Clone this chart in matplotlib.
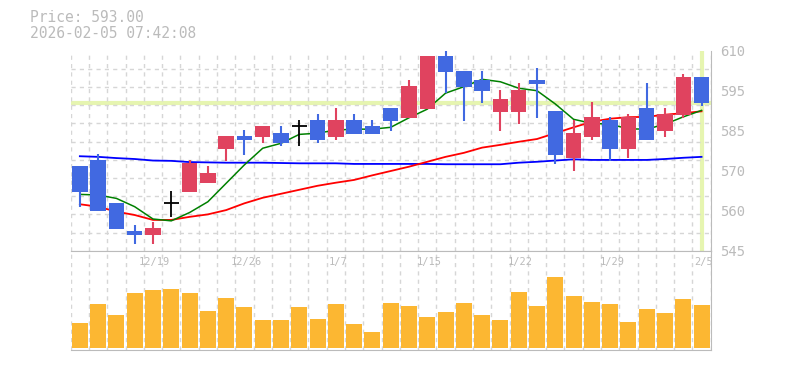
import numpy as np
import matplotlib.pyplot as plt
from matplotlib.transforms import blended_transform_factory

# daily candles, 2025-12-15 .. 2026-02-05
dates = ["12/15", "12/16", "12/17", "12/18", "12/19", "12/22", "12/23", "12/24", "12/25", "12/26",
         "12/29", "12/30", "1/5", "1/6", "1/7", "1/8", "1/9", "1/13", "1/14", "1/15",
         "1/16", "1/19", "1/20", "1/21", "1/22", "1/23", "1/26", "1/27", "1/28", "1/29",
         "1/30", "2/2", "2/3", "2/4", "2/5"]
opens = [572.5, 574.5, 560.5, 551.4, 550.1, 560.4, 564.2, 567.1, 578.2, 582.3,
         582.0, 583.3, 585.4, 587.5, 582.0, 587.5, 585.5, 591.4, 588.2, 591.2,
         608.3, 603.3, 600.4, 590.2, 590.2, 600.4, 590.4, 575.2, 582.1, 587.5,
         578.2, 591.4, 584.0, 589.2, 601.5]
closes = [564.2, 558.0, 552.1, 550.1, 552.5, 560.4, 573.5, 570.3, 582.3, 581.1,
          585.5, 580.0, 585.4, 581.0, 587.5, 582.9, 582.9, 587.3, 598.5, 608.3,
          603.1, 598.3, 597.0, 594.3, 597.2, 599.3, 576.2, 583.3, 588.5, 578.2,
          588.5, 581.1, 589.4, 601.5, 593.0]
highs = [572.5, 576.4, 560.5, 553.4, 554.4, 564.4, 574.5, 572.5, 582.3, 584.2,
         585.5, 585.5, 587.5, 589.4, 591.4, 589.4, 587.5, 591.4, 600.5, 608.3,
         610.2, 603.3, 603.3, 597.2, 599.4, 604.3, 590.4, 587.5, 593.3, 588.5,
         589.4, 599.5, 591.4, 602.4, 601.5]
lows = [559.3, 558.0, 552.1, 547.3, 547.3, 556.0, 564.2, 567.1, 574.3, 576.1,
        580.0, 579.0, 579.0, 580.0, 581.0, 582.9, 582.9, 584.0, 588.2, 591.2,
        596.4, 587.3, 593.1, 584.0, 586.3, 588.2, 573.3, 571.0, 581.1, 574.3,
        575.2, 581.1, 582.1, 588.2, 592.1]
volume = [75, 132, 99, 165, 174, 177, 165, 111, 150, 123,
          84, 84, 123, 87, 132, 72, 48, 135, 126, 93,
          108, 135, 99, 84, 168, 126, 213, 156, 138, 132,
          78, 117, 105, 147, 129]

ma_short = [563.3, 563.1, 562.0, 559.3, 555.3, 554.7, 557.4, 560.9, 566.9, 572.9,
            578.3, 579.9, 582.8, 583.2, 584.2, 584.5, 584.5, 585.1, 588.2, 591.0,
            596.2, 598.3, 600.7, 599.9, 597.8, 597.0, 592.7, 587.7, 586.4, 586.1,
            584.6, 584.5, 586.1, 588.5, 590.6]
ma_mid = [560.1, 559.3, 557.7, 556.6, 555.0, 555.0, 556.0, 556.8, 558.2, 560.4,
          562.2, 563.5, 564.8, 566.1, 567.1, 568.0, 569.5, 570.9, 572.3, 573.9,
          575.5, 576.8, 578.5, 579.4, 580.4, 581.3, 583.2, 585.1, 586.9, 587.9,
          588.4, 588.5, 589.2, 589.7, 590.3]
ma_long = [575.7, 575.5, 575.1, 574.8, 574.3, 574.2, 573.8, 573.7, 573.6, 573.6,
           573.6, 573.5, 573.4, 573.4, 573.4, 573.2, 573.2, 573.2, 573.2, 573.2,
           573.1, 573.1, 573.1, 573.1, 573.6, 573.9, 574.3, 574.7, 574.5, 574.5,
           574.5, 574.5, 574.8, 575.2, 575.5]

price_ticks = [610, 597, 584, 571, 558, 545]
price_labels = ["610", "595", "585", "570", "560", "545"]
last_price = 593.00
timestamp = "2026-02-05 07:42:08"

UP = "#e0435f"
DOWN = "#4169e1"
GRID = "#d6d6d6"
TXT = "#bbbbbb"
HL = "#e6f5b0"
MONO = "DejaVu Sans Mono"

n = len(closes)
x = np.arange(n)

fig = plt.figure(figsize=(7.85, 3.70), dpi=100)
W, H = 785, 370
ax = fig.add_axes([70.7 / W, 1 - 250.7 / H, 640 / W, 200 / H])
axv = fig.add_axes([70.7 / W, 1 - 350 / H, 640 / W, 99.3 / H])

for a in (ax, axv):
    a.set_xlim(-0.5, n - 0.5)
    a.set_xticks(np.arange(-0.5, n, 1), minor=True)
    a.set_xticks([])
    a.grid(which="minor", axis="x", color=GRID, ls=(0, (3, 3)), lw=1)
    a.tick_params(which="both", length=0, labelleft=False, labelbottom=False)
    a.spines["left"].set_visible(False)
    a.spines["right"].set_color(TXT)
    a.spines["bottom"].set_color(TXT)

ax.spines["top"].set_visible(False)
axv.spines["top"].set_color(TXT)

# price panel
ax.set_ylim(545, 610)
ax.set_yticks(np.linspace(545, 610, 12), minor=True)
ax.grid(which="minor", axis="y", color=GRID, ls=(0, (3, 3)), lw=1)
ax.yaxis.tick_right()
ax.set_yticks(price_ticks)
ax.set_yticklabels(price_labels, family=MONO, fontsize=10, color=TXT)
ax.tick_params(axis="y", which="major", pad=7, labelright=True)

ax.axhline(last_price, color=HL, lw=3, zorder=1)
ax.axvline(x[-1], color=HL, lw=3, zorder=1)

ax.plot(x, ma_long, color="#0000ff", lw=1.3, zorder=2)
ax.plot(x, ma_mid, color="#ff0000", lw=1.3, zorder=2)
ax.plot(x, ma_short, color="#008000", lw=1.1, zorder=2)

bw = 0.85
for i in range(n):
    o, c, h, l = opens[i], closes[i], highs[i], lows[i]
    if o == c:
        col = "black"
        ax.vlines(x[i], l, h, color=col, lw=1.3, zorder=3)
        ax.hlines(o, x[i] - bw / 2, x[i] + bw / 2, color=col, lw=1.3, zorder=3)
        continue
    col = UP if c > o else DOWN
    ax.vlines(x[i], l, h, color=col, lw=1.5, zorder=3)
    ax.bar(x[i], abs(c - o), bottom=min(o, c), width=bw, color=col, zorder=4)

# volume panel
axv.bar(x, volume, width=0.88, color="#fcb732", zorder=2)
axv.set_ylim(-6, 292)
axv.set_yticks([])

tr = blended_transform_factory(axv.transData, axv.transAxes)
for i in range(4, n, 5):
    axv.text(x[i] + 0.1, 0.885, dates[i], transform=tr, ha="center", va="center",
             family=MONO, fontsize=7.5, color=TXT, zorder=3)

fig.text(30 / W, 1 - 18 / H, f"Price: {last_price:.2f}", family=MONO,
         fontsize=10.5, color=TXT, va="center", ha="left")
fig.text(30 / W, 1 - 33.5 / H, timestamp, family=MONO,
         fontsize=10.5, color=TXT, va="center", ha="left")

fig.savefig("out.png", dpi=100)
